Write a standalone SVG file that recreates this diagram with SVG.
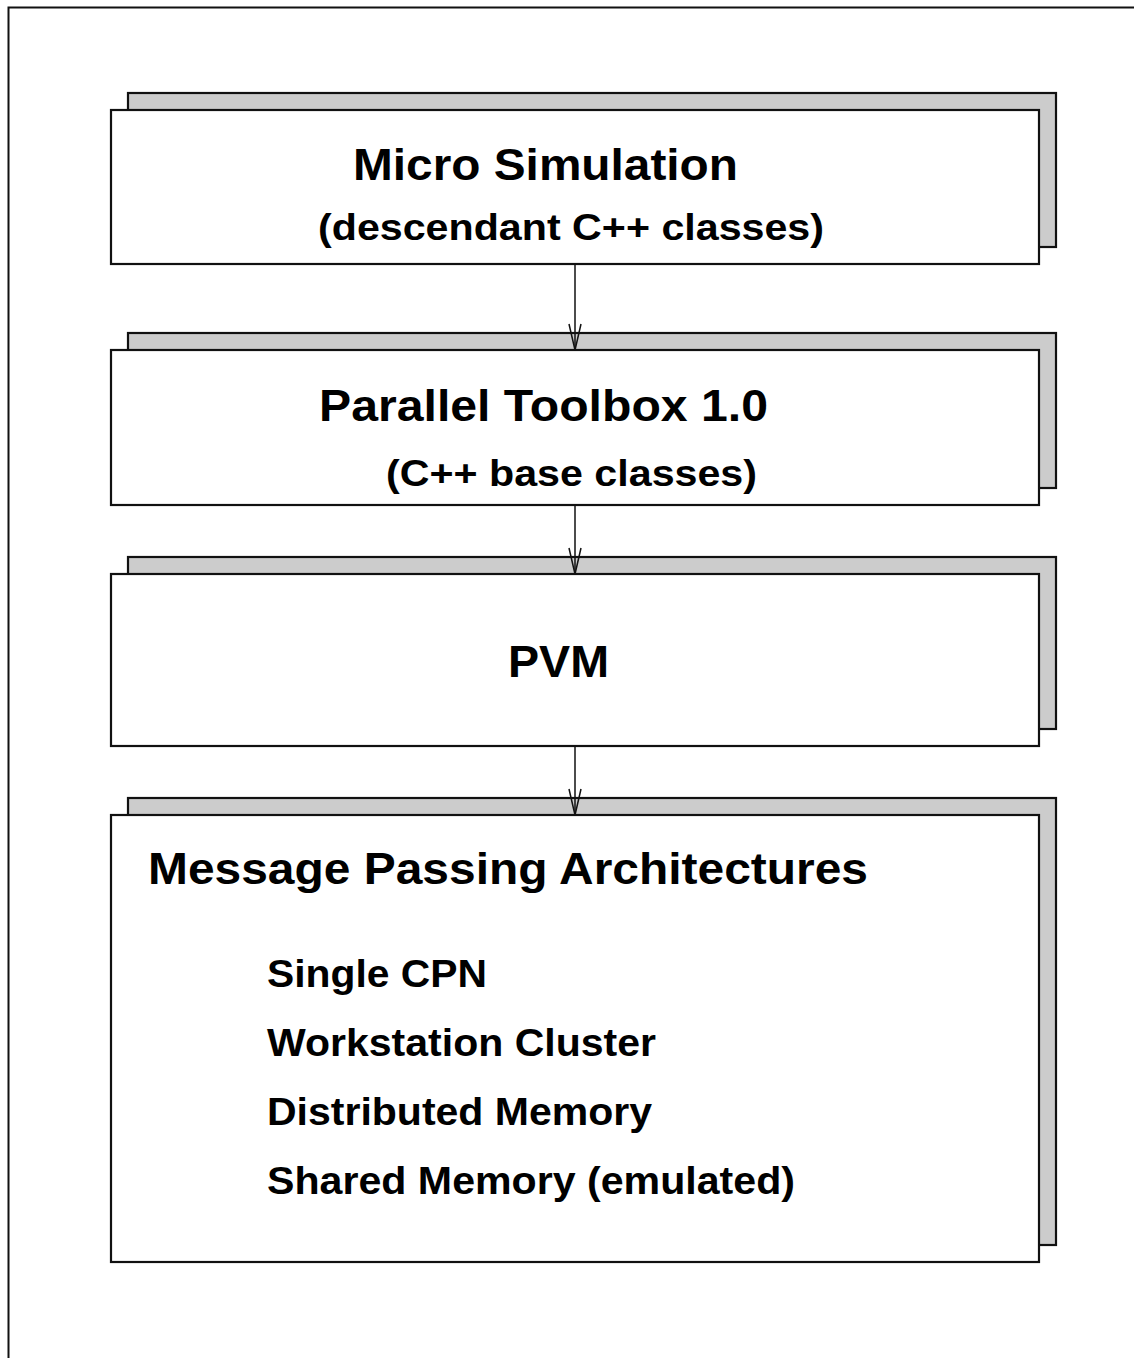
<svg xmlns="http://www.w3.org/2000/svg" width="1134" height="1358" viewBox="0 0 1134 1358">
<style>
.shadow{fill:#cccccc;stroke:#111;stroke-width:2.2}
.box{fill:#fff;stroke:#111;stroke-width:2.2}
.t{font-family:"Liberation Sans",Arial,sans-serif;font-weight:bold;fill:#000}
.h{font-size:44px}
.s{font-size:37px}
.i{font-size:38px}
.conn{stroke:#111;stroke-width:1.5;fill:none}
</style>
<defs>
<marker id="arr" markerUnits="userSpaceOnUse" markerWidth="30" markerHeight="16" refX="26" refY="6" orient="auto" overflow="visible">
<path d="M0,0 L26,6 L0,12" fill="none" stroke="#111" stroke-width="1.5"/>
</marker>
</defs>
<rect width="1134" height="1358" fill="#fff"/>
<path d="M8.5,1358 L8.5,7.5 L1134,7.5" fill="none" stroke="#111" stroke-width="2"/>
<g id="micro">
<rect class="shadow" x="128" y="93" width="928" height="154"/>
<rect class="box" x="111" y="110" width="928" height="154"/>
<text class="t h" x="353" y="180" textLength="385" lengthAdjust="spacingAndGlyphs">Micro Simulation</text>
<text class="t s" x="318" y="240" textLength="506" lengthAdjust="spacingAndGlyphs">(descendant C++ classes)</text>
</g>
<g id="toolbox">
<rect class="shadow" x="128" y="333" width="928" height="155"/>
<rect class="box" x="111" y="350" width="928" height="155"/>
<text class="t h" x="319" y="421" textLength="449" lengthAdjust="spacingAndGlyphs">Parallel Toolbox 1.0</text>
<text class="t s" x="386" y="486" textLength="371" lengthAdjust="spacingAndGlyphs">(C++ base classes)</text>
</g>
<g id="pvm">
<rect class="shadow" x="128" y="557" width="928" height="172"/>
<rect class="box" x="111" y="574" width="928" height="172"/>
<text class="t h" x="508" y="677" textLength="101" lengthAdjust="spacingAndGlyphs">PVM</text>
</g>
<g id="mpa">
<rect class="shadow" x="128" y="798" width="928" height="447"/>
<rect class="box" x="111" y="815" width="928" height="447"/>
<text class="t h" x="148" y="884" textLength="720" lengthAdjust="spacingAndGlyphs">Message Passing Architectures</text>
<text class="t i" x="267" y="987" textLength="220" lengthAdjust="spacingAndGlyphs">Single CPN</text>
<text class="t i" x="267" y="1056" textLength="389" lengthAdjust="spacingAndGlyphs">Workstation Cluster</text>
<text class="t i" x="267" y="1125" textLength="385" lengthAdjust="spacingAndGlyphs">Distributed Memory</text>
<text class="t i" x="267" y="1194" textLength="528" lengthAdjust="spacingAndGlyphs">Shared Memory (emulated)</text>
</g>
<g id="connectors">
<line class="conn" x1="575" y1="264" x2="575" y2="350" marker-end="url(#arr)"/>
<line class="conn" x1="575" y1="505" x2="575" y2="574" marker-end="url(#arr)"/>
<line class="conn" x1="575" y1="746" x2="575" y2="815" marker-end="url(#arr)"/>
</g>
</svg>
